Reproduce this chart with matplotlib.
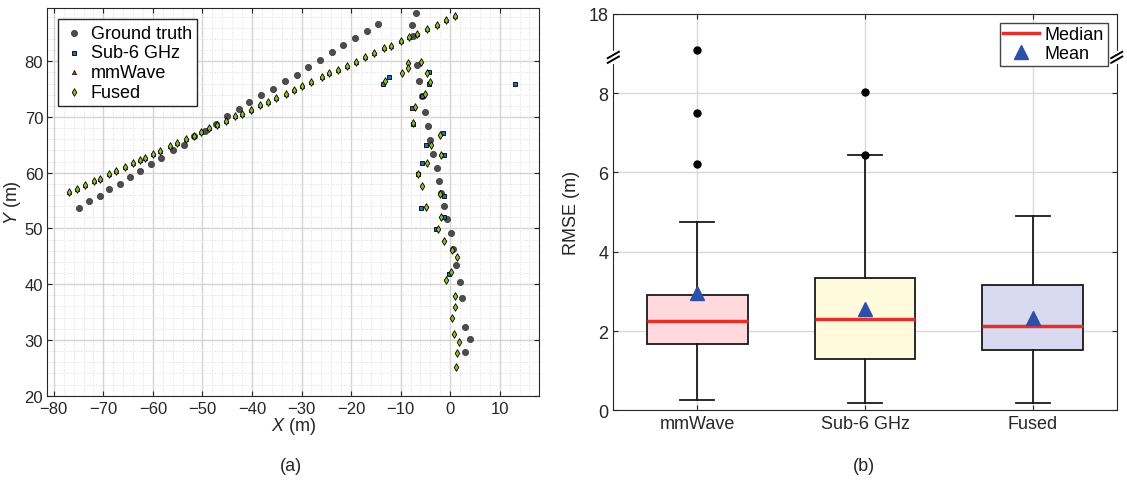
import numpy as np
import matplotlib.pyplot as plt
from matplotlib.lines import Line2D
from matplotlib.ticker import MultipleLocator
from matplotlib.transforms import blended_transform_factory

plt.rcParams['font.family'] = ['Liberation Sans', 'DejaVu Sans']
plt.rcParams['mathtext.fontset'] = 'custom'
plt.rcParams['mathtext.it'] = 'Liberation Sans:italic'
plt.rcParams['mathtext.rm'] = 'Liberation Sans'
plt.rcParams['font.size'] = 13

# ---- (a) trajectories ----
gt_x = [-74.9, -72.8, -70.7, -68.9, -66.7, -64.7, -62.6, -60.4, -58.3, -56.0, -53.8, -51.7,
        -49.5, -47.3, -45.1, -42.7, -40.6, -38.1, -35.7, -33.3, -31.0, -28.6, -26.3, -23.9,
        -21.6, -19.2, -16.8, -14.5,
        -7.0, -7.7, -7.5, -6.7, -6.2, -5.6, -5.0, -4.4, -4.0, -3.5, -2.7, -2.3, -1.8, -1.2,
        -0.7, 0.1, 0.5, 1.2, 2.0, 2.4, 2.9, 4.0, 2.9]
gt_y = [53.7, 54.9, 55.9, 57.0, 58.0, 59.2, 60.3, 61.5, 62.6, 64.0, 65.0, 66.6,
        67.5, 68.8, 70.1, 71.4, 72.6, 73.9, 75.1, 76.4, 77.6, 79.0, 80.3, 81.6,
        83.0, 84.2, 85.5, 86.7,
        88.6, 86.5, 84.6, 79.3, 76.5, 73.7, 70.9, 68.3, 65.8, 63.4, 60.9, 58.5, 56.4, 54.1,
        51.7, 49.2, 46.4, 43.4, 40.4, 37.6, 32.4, 30.1, 27.9]

fused_x = [-76.9, -75.4, -73.6, -71.9, -70.7, -68.9, -67.5, -65.7, -64.0, -62.6, -61.5, -60.0,
           -58.5, -56.6, -55.2, -53.3, -51.7, -50.2, -48.6, -47.1, -45.3, -43.5, -42.0, -40.2,
           -38.3, -36.8, -35.1, -33.2, -31.6, -29.9, -28.1, -25.9, -24.5, -22.6, -20.8, -19.0,
           -17.2, -15.3, -13.4, -11.9, -10.0, -8.4, -6.6, -4.6, -2.7, -0.9, 0.9,
           -13.2, -8.5, -8.5, -5.9, -9.7, -4.6, -4.1, -5.0, -7.2, -7.6, -2.0, -3.8, -1.8,
           -4.7, -6.4, -5.6, -2.1, -4.9, -1.9, -2.5, -1.2, 0.3, 1.3, 0.1, -0.8, 0.9,
           1.0, 0.3, 0.7, 1.7, 1.3, 1.1]
fused_y = [56.5, 57.1, 57.8, 58.5, 58.9, 59.7, 60.3, 61.0, 61.7, 62.2, 62.7, 63.4,
           63.9, 64.8, 65.3, 66.0, 66.6, 67.3, 68.0, 68.6, 69.2, 70.1, 70.6, 71.3,
           72.1, 72.7, 73.4, 74.1, 74.8, 75.6, 76.3, 77.2, 77.8, 78.5, 79.2, 79.9,
           80.7, 81.4, 82.3, 82.8, 83.6, 84.3, 84.9, 85.8, 86.5, 87.4, 88.1,
           76.4, 79.7, 78.8, 79.8, 77.9, 77.9, 76.2, 74.2, 71.8, 68.9, 66.8, 64.9, 63.1,
           61.7, 59.7, 57.7, 56.1, 53.9, 52.0, 49.9, 47.8, 46.1, 44.9, 42.2, 40.8, 37.9,
           35.9, 34.0, 31.1, 29.6, 27.7, 25.1]

sub6_x = [-12.4, -13.5, -4.2, -4.2, -5.6, -7.8, -7.6, -1.5, -4.8, -1.2, -5.6, -6.4,
          -1.2, -5.9, -1.2, -2.8, -0.2, 13.1]
sub6_y = [77.1, 75.9, 78.0, 75.9, 73.7, 71.6, 68.7, 67.1, 64.9, 63.1, 61.8, 59.8,
          55.9, 53.7, 52.0, 49.9, 41.9, 75.9]

# mmWave estimates sit under the fused markers (not visible in the figure)
mm_x = fused_x[:47]
mm_y = fused_y[:47]

# ---- (b) RMSE box plot ----
labels = ['mmWave', 'Sub-6 GHz', 'Fused']
q1 = [1.68, 1.30, 1.52]
med = [2.25, 2.31, 2.13]
q3 = [2.90, 3.34, 3.17]
whis_lo = [0.27, 0.18, 0.19]
whis_hi = [4.75, 6.43, 4.90]
means = [2.95, 2.57, 2.32]
outliers = [[6.2, 7.5, 9.8], [6.45, 8.03], []]
box_colors = ['#ffd9de', '#fffadb', '#d9d9f2']


def squash(v):
    # axis break: values above 9 are compressed so that 18 lands at 10
    v = np.asarray(v, dtype=float)
    return np.where(v <= 9, v, 9 + (v - 9) / 9)


fig = plt.figure(figsize=(11.27, 4.81), dpi=100)
ax1 = fig.add_axes([0.042, 0.1753, 0.4366, 0.8054])
ax2 = fig.add_axes([0.5442, 0.1445, 0.4467, 0.825])

dark = '#262626'
ax1.scatter(gt_x, gt_y, s=20, c='#4d4d4d', edgecolors='#333333', linewidths=0.5,
            marker='o', label='Ground truth', zorder=3)
ax1.scatter(sub6_x, sub6_y, s=11, c='#1f6eb0', edgecolors='black', linewidths=0.6,
            marker='s', label='Sub-6 GHz', zorder=4)
ax1.scatter(mm_x, mm_y, s=9, c='#c8401a', edgecolors='black', linewidths=0.5,
            marker='^', label='mmWave', zorder=4)
ax1.scatter(fused_x, fused_y, s=15, c='#8cbf1f', edgecolors='black', linewidths=0.6,
            marker='d', label='Fused', zorder=5)

ax1.set_xlim(-81.3, 18)
ax1.set_ylim(20, 89.5)
ax1.set_xticks(np.arange(-80, 11, 10))
ax1.set_yticks(np.arange(20, 81, 10))
ax1.xaxis.set_minor_locator(MultipleLocator(2))
ax1.yaxis.set_minor_locator(MultipleLocator(2))
ax1.grid(True, which='major', color='#d4d4d4', lw=1.0)
ax1.grid(True, which='minor', color='#dddddd', lw=0.7, ls=':')
ax1.set_axisbelow(True)
ax1.tick_params(which='both', direction='in', top=True, right=True, colors=dark,
                labelcolor=dark, labelsize=12)
ax1.tick_params(axis='x', pad=4)
ax1.tick_params(axis='y', pad=3)
ax1.tick_params(which='minor', length=0)
ax1.set_xlabel('$X$ (m)', labelpad=-1, color=dark)
ax1.set_ylabel('$Y$ (m)', labelpad=1, color=dark)
for s in ax1.spines.values():
    s.set_color(dark)
leg1 = ax1.legend(loc='upper left', fontsize=13, frameon=True, fancybox=False,
                  edgecolor=dark, framealpha=1, handletextpad=0.3, labelspacing=0.15,
                  borderpad=0.3, borderaxespad=0.6, handlelength=1.2, scatterpoints=1)
leg1.get_frame().set_linewidth(1.0)

stats = []
for i in range(3):
    stats.append(dict(label=labels[i], q1=q1[i], med=med[i], q3=q3[i],
                      whislo=whis_lo[i], whishi=whis_hi[i], mean=means[i],
                      fliers=squash(outliers[i])))
bp = ax2.bxp(stats, positions=[1, 2, 3], widths=0.6, capwidths=0.2, patch_artist=True,
             showmeans=True,
             boxprops=dict(edgecolor='#1a1a1a', linewidth=1.3),
             whiskerprops=dict(color='#1a1a1a', linewidth=1.3),
             capprops=dict(color='#1a1a1a', linewidth=1.3),
             medianprops=dict(color='#e0322b', linewidth=2.5),
             meanprops=dict(marker='^', markerfacecolor='#2e4fa8', markeredgecolor='#2e4fa8',
                            markersize=10),
             flierprops=dict(marker='o', markerfacecolor='black', markeredgecolor='black',
                             markersize=5))
for patch, col in zip(bp['boxes'], box_colors):
    patch.set_facecolor(col)

ax2.set_xlim(0.5, 3.5)
ax2.set_ylim(0, 10)
ax2.set_yticks([0, 2, 4, 6, 8, 10])
ax2.set_yticklabels(['0', '2', '4', '6', '8', '18'])
ax2.set_xticks([1, 2, 3])
ax2.set_xticklabels(labels)
ax2.grid(True, color='#d9d9d9', lw=1.0)
ax2.set_axisbelow(True)
ax2.tick_params(direction='in', top=True, right=True, colors=dark, labelcolor=dark,
                labelsize=13)
ax2.set_ylabel('RMSE (m)', color=dark, labelpad=6)
for s in ax2.spines.values():
    s.set_color(dark)

# break marks on both side spines
trans = blended_transform_factory(ax2.transAxes, ax2.transData)
for xa in (0, 1):
    ax2.plot([xa, xa], [8.78, 9.02], color='white', lw=3, transform=trans,
             clip_on=False, zorder=6)
    for yc in (8.84, 8.96):
        ax2.plot([xa - 0.011, xa + 0.011], [yc - 0.08, yc + 0.08], color='black',
                 lw=1.4, transform=trans, clip_on=False, zorder=7)

handles = [Line2D([], [], color='#e0322b', lw=2.5),
           Line2D([], [], ls='none', marker='^', color='#2e4fa8', markersize=10)]
leg2 = ax2.legend(handles, ['Median', 'Mean'], loc='upper right', fontsize=13,
                  fancybox=False, edgecolor='#444444', framealpha=1, handlelength=2.0,
                  handletextpad=0.3, labelspacing=0.1, borderpad=0.2, borderaxespad=0.5)
leg2.get_frame().set_linewidth(1.0)

fig.text(0.2582, 0.031, '(a)', ha='center', va='center', fontsize=13, color=dark)
fig.text(0.767, 0.031, '(b)', ha='center', va='center', fontsize=13, color=dark)

fig.savefig('out.png', dpi=100)
